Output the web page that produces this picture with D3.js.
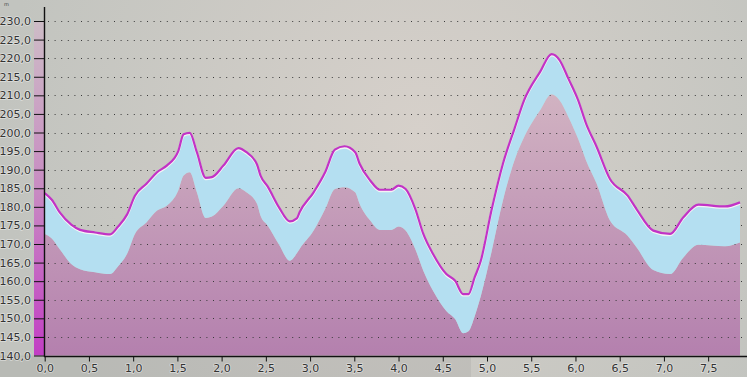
<!DOCTYPE html>
<html>
<head>
<meta charset="utf-8">
<script src="https://cdn.jsdelivr.net/npm/d3@7"></script>
<style>
  html, body { margin: 0; padding: 0; overflow: hidden; }
  body { width: 747px; height: 377px; }
  text { font-family: "DejaVu Sans", Verdana, sans-serif; }
</style>
</head>
<body>
<div class="chart"></div>
<script>
(function() {
  'use strict';

  // distance along the profile
  const dist = [0.00, 0.08, 0.17, 0.30, 0.40, 0.57, 0.74, 0.83, 0.93, 1.02,
    1.15, 1.27, 1.38, 1.51, 1.57, 1.64, 1.72, 1.82, 1.89, 2.02,
    2.19, 2.28, 2.40, 2.44, 2.52, 2.65, 2.77, 2.85, 2.88, 3.04,
    3.17, 3.28, 3.39, 3.51, 3.56, 3.68, 3.79, 3.92, 4.00, 4.08,
    4.19, 4.28, 4.39, 4.54, 4.64, 4.73, 4.79, 4.86, 4.93, 5.05,
    5.18, 5.31, 5.42, 5.60, 5.73, 5.82, 5.92, 6.03, 6.12, 6.24,
    6.39, 6.59, 6.69, 6.88, 7.07, 7.22, 7.39, 7.69, 7.86];

  // upper profile (line)
  const upper = [183.7, 181.9, 178.5, 175.2, 173.8, 173.1, 172.6, 174.7, 177.9, 183.0,
    186.2, 189.3, 191.1, 195.0, 199.5, 199.9, 194.7, 187.8, 188.0, 191.1,
    195.8, 194.7, 191.4, 188.4, 185.5, 179.8, 176.1, 176.9, 178.5, 183.9,
    189.3, 195.4, 196.3, 194.7, 191.6, 187.1, 184.6, 184.6, 185.7, 184.8,
    179.4, 172.7, 167.3, 161.9, 160.1, 156.5, 156.5, 161.0, 165.5, 179.0,
    191.6, 201.0, 208.7, 216.3, 221.1, 219.5, 214.5, 208.7, 202.4, 196.1,
    187.5, 183.0, 179.4, 173.6, 172.7, 177.2, 180.6, 180.1, 181.2];

  // lower profile (filled area)
  const lower = [172.7, 171.5, 168.6, 164.6, 163.2, 162.4, 161.9, 164.0, 167.3, 172.7,
    175.8, 179.0, 180.3, 184.4, 188.4, 189.3, 183.9, 177.0, 177.4, 180.3,
    185.0, 183.9, 180.8, 177.6, 175.0, 169.8, 165.5, 167.5, 168.6, 173.6,
    179.4, 184.8, 185.3, 183.9, 180.8, 176.3, 173.8, 173.8, 174.7, 173.6,
    168.6, 162.8, 157.4, 152.0, 149.8, 146.0, 146.5, 150.5, 156.0, 167.8,
    181.7, 192.5, 198.8, 206.0, 210.3, 208.7, 204.2, 198.3, 192.5, 186.2,
    176.3, 172.2, 169.1, 163.0, 161.9, 166.4, 169.8, 169.4, 170.4];

  const yTicks = d3.range(140, 231, 5),
        xTicks = d3.range(0, 7.51, 0.5),
        fmt = v => d3.format('.1f')(v).replace('.', ',');

  const width = 747, height = 377,
        margin = { top: 21, right: 0, bottom: 21, left: 44 },
        plotRight = 740;

  const x = d3.scaleLinear()
          .domain([0, 7.86])
          .range([margin.left + 0.7, plotRight]),
        y = d3.scaleLinear()
          .domain([140, 230])
          .range([height - margin.bottom - 0.5, margin.top]);

  const data = dist.map((d, i) => ({ d: d, hi: upper[i], lo: lower[i] }));

  const svg = d3.select('.chart')
    .append('svg')
    .attr('width', width)
    .attr('height', height);

  const defs = svg.append('defs');

  const bg = defs.append('radialGradient')
    .attr('id', 'bg')
    .attr('gradientUnits', 'userSpaceOnUse')
    .attr('cx', 420).attr('cy', 130).attr('r', 420);
  bg.append('stop').attr('offset', '0%').attr('stop-color', '#d6d0ca');
  bg.append('stop').attr('offset', '100%').attr('stop-color', '#c2c4bf');

  const fill = defs.append('linearGradient')
    .attr('id', 'fill')
    .attr('gradientUnits', 'userSpaceOnUse')
    .attr('x1', 0).attr('y1', y(212)).attr('x2', 0).attr('y2', y(140));
  fill.append('stop').attr('offset', '0%').attr('stop-color', '#d2b4c2');
  fill.append('stop').attr('offset', '100%').attr('stop-color', '#b480ae');

  const strip = defs.append('linearGradient')
    .attr('id', 'strip')
    .attr('x1', 0).attr('y1', 0).attr('x2', 0).attr('y2', 1);
  strip.append('stop').attr('offset', '0%').attr('stop-color', '#cdbcc6');
  strip.append('stop').attr('offset', '50%').attr('stop-color', '#c88cc2');
  strip.append('stop').attr('offset', '100%').attr('stop-color', '#c23ec4');

  svg.append('rect')
    .attr('width', width).attr('height', height)
    .attr('fill', 'url(#bg)');

  // darker band under the axis
  svg.append('rect')
    .attr('x', 0).attr('y', y(140))
    .attr('width', 471).attr('height', height - y(140))
    .attr('fill', '#000').attr('opacity', 0.05);

  // colour strip beside the y axis
  svg.append('rect')
    .attr('x', 34).attr('y', y(230))
    .attr('width', 10).attr('height', y(140) - y(230))
    .attr('fill', 'url(#strip)');

  const areaLo = d3.area()
    .x(d => x(d.d))
    .y0(y(140))
    .y1(d => y(d.lo))
    .curve(d3.curveMonotoneX);

  const band = d3.area()
    .x(d => x(d.d))
    .y0(d => y(d.lo))
    .y1(d => y(d.hi))
    .curve(d3.curveMonotoneX);

  const line = d3.line()
    .x(d => x(d.d))
    .y(d => y(d.hi))
    .curve(d3.curveMonotoneX);

  svg.append('path')
    .datum(data)
    .attr('d', areaLo)
    .attr('fill', 'url(#fill)');

  // grid (shows on the fill, hidden by the band)
  svg.append('g')
    .selectAll('line')
    .data(yTicks.filter(v => v > 140))
    .enter()
    .append('line')
      .attr('x1', margin.left + 4).attr('x2', width)
      .attr('y1', d => Math.round(y(d)) + 0.5)
      .attr('y2', d => Math.round(y(d)) + 0.5)
      .attr('stroke', '#3a3a3a')
      .attr('stroke-width', 1)
      .attr('stroke-dasharray', '1,5.6');

  svg.append('path')
    .datum(data)
    .attr('d', band)
    .attr('fill', '#b4dff1');

  // line with light halo
  svg.append('path')
    .datum(data)
    .attr('d', line)
    .attr('transform', 'translate(0,1.2)')
    .attr('fill', 'none')
    .attr('stroke', '#f4f4f4')
    .attr('stroke-width', 2.4);

  svg.append('path')
    .datum(data)
    .attr('d', line)
    .attr('fill', 'none')
    .attr('stroke', '#c233c6')
    .attr('stroke-width', 2.2)
    .attr('stroke-linejoin', 'round');

  // axes
  const yAxis = svg.append('g')
    .attr('transform', `translate(${margin.left},0)`)
    .call(d3.axisLeft(y).tickValues(yTicks).tickFormat(fmt).tickSize(10).tickPadding(3));

  const xAxis = svg.append('g')
    .attr('transform', `translate(0,${Math.round(y(140)) + 0.5})`)
    .call(d3.axisBottom(x).tickValues(xTicks).tickFormat(fmt).tickSize(5).tickPadding(3));

  [yAxis, xAxis].forEach(a => {
    a.select('.domain').remove();
    a.selectAll('line').attr('stroke', '#111');
    a.selectAll('text')
      .attr('fill', '#333')
      .style('font-size', '11px')
      .style('paint-order', 'stroke')
      .style('stroke', 'rgba(255,255,255,0.45)')
      .style('stroke-width', '1.5px');
  });

  svg.append('line')
    .attr('x1', margin.left + 0.5).attr('x2', margin.left + 0.5)
    .attr('y1', 7).attr('y2', Math.round(y(140)) + 1)
    .attr('stroke', '#111').attr('stroke-width', 1.4);

  svg.append('line')
    .attr('x1', margin.left).attr('x2', width)
    .attr('y1', Math.round(y(140)) + 0.5).attr('y2', Math.round(y(140)) + 0.5)
    .attr('stroke', '#111').attr('stroke-width', 1.4);

  svg.append('text')
    .attr('x', 4).attr('y', 6)
    .style('font-size', '5px')
    .attr('fill', '#444')
    .text('m');

})();
</script>
</body>
</html>
